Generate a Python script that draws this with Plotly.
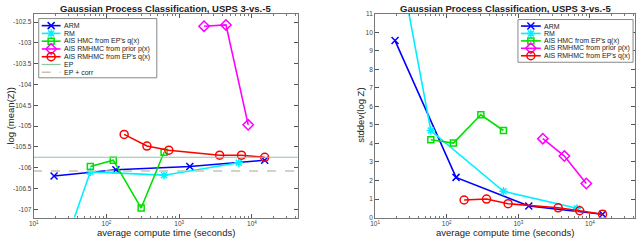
import plotly.graph_objects as go

# ---------------- data ----------------
title_text = "Gaussian Process Classification, USPS 3-vs.-5"
x_label = "average compute time (seconds)"
left_ylabel = "log (mean(Z))"
right_ylabel = "stddev(log Z)"

arm_t = [19, 135, 1400, 15000]
arm_mean = [-106.2, -106.05, -105.97, -105.82]
arm_std = [9.55, 2.17, 0.63, 0.18]

rm_t = [19, 60, 620, 6600]
rm_mean = [-108.6, -106.1, -106.18, -105.88]
rm_std = [15.0, 4.7, 1.42, 0.5]

hmc_t = [60, 124, 300, 620]
hmc_mean = [-105.97, -105.82, -106.97, -105.63]
hmc_std = [4.2, 4.02, 5.55, 4.7]

rmprior_t = [2200, 4400, 8900]
rmprior_mean = [-102.6, -102.57, -104.97]
rmprior_std = [4.26, 3.32, 1.84]

rmep_t = [175, 360, 720, 3600, 7200, 15000]
rmep_mean = [-105.2, -105.48, -105.58, -105.7, -105.7, -105.75]
rmep_std = [0.95, 1.0, 0.75, 0.53, 0.37, 0.18]

ep_value = -105.75
ep_corr_value = -106.08

x_tickvals = [10, 100, 1000, 10000]
x_ticktext = ["10<sup>1</sup>", "10<sup>2</sup>", "10<sup>3</sup>", "10<sup>4</sup>"]
left_yticks = [-107, -106.5, -106, -105.5, -105, -104.5, -104, -103.5, -103, -102.5]
left_yticktext = ["-107", "-106.5", "-106", "-105.5", "-105", "-104.5", "-104", "-103.5", "-103", "-102.5"]
right_yticks = list(range(0, 12))

series = [
    ("ARM", arm_t, arm_mean, arm_std, "#0000ff", "x-thin-open", 7),
    ("RM", rm_t, rm_mean, rm_std, "#00f0ff", "asterisk-open", 7),
    ("AIS HMC from EP's q(x)", hmc_t, hmc_mean, hmc_std, "#00e000", "square-open", 6),
    ("AIS RMHMC from prior p(x)", rmprior_t, rmprior_mean, rmprior_std, "#ff00ff", "diamond-open", 8),
    ("AIS RMHMC from EP's q(x)", rmep_t, rmep_mean, rmep_std, "#ff0000", "circle-open", 8),
]
ep_color = "#88c8a0"
epc_color = "#c8c4b0"

FONT = "Liberation Sans, Arial, sans-serif"
W, H = 640, 241

# axes boxes in pixels (left, right, top, bottom)
LBOX = (29, 295, 10, 220)
RBOX = (373, 635, 10, 220)

def xdom(b):
    return [b[0] / W, b[1] / W]

def ydom(b):
    return [1 - b[3] / H, 1 - b[2] / H]

fig = go.Figure()

for name, t, m, s, col, sym, ms in series:
    fig.add_trace(go.Scatter(
        x=t, y=m, name=name, mode="lines+markers", xaxis="x", yaxis="y",
        line=dict(color=col, width=1.6), showlegend=False,
        marker=dict(symbol=sym, size=ms, color=col, line=dict(color=col, width=1.5))))
fig.add_trace(go.Scatter(
    x=[1, 1e6], y=[ep_value, ep_value], name="EP", mode="lines", showlegend=False,
    xaxis="x", yaxis="y", line=dict(color=ep_color, width=1.2)))
fig.add_trace(go.Scatter(
    x=[1, 1e6], y=[ep_corr_value, ep_corr_value], name="EP + corr", mode="lines", showlegend=False,
    xaxis="x", yaxis="y", line=dict(color=epc_color, width=1.6, dash="dash")))

for name, t, m, s, col, sym, ms in series:
    fig.add_trace(go.Scatter(
        x=t, y=s, name=name, mode="lines+markers", xaxis="x2", yaxis="y2",
        line=dict(color=col, width=1.6), showlegend=False,
        marker=dict(symbol=sym, size=ms, color=col, line=dict(color=col, width=1.5))))

# ---------------- custom compact legends (pixel overlay axis) ----------------
shapes = []
annotations = []

def add_legend(box, entries, key_x0, key_x1, text_x, row_y0, row_h):
    shapes.append(dict(type="rect", xref="x3", yref="y3", x0=box[0], x1=box[1], y0=box[2], y1=box[3],
                       line=dict(color="#888", width=1), fillcolor="white", layer="below"))
    for i, (name, col, sym, ms, dash, lw) in enumerate(entries):
        yy = row_y0 + i * row_h
        fig.add_trace(go.Scatter(
            x=[key_x0, key_x1], y=[yy, yy], mode="lines", xaxis="x3", yaxis="y3",
            line=dict(color=col, width=lw, dash=dash), showlegend=False, hoverinfo="skip",
            cliponaxis=False))
        if sym:
            fig.add_trace(go.Scatter(
                x=[(key_x0 + key_x1) / 2], y=[yy], mode="markers", xaxis="x3", yaxis="y3",
                marker=dict(symbol=sym, size=ms, color=col, line=dict(color=col, width=1.5)),
                showlegend=False, hoverinfo="skip", cliponaxis=False))
        annotations.append(dict(text=name, x=text_x, y=yy, xref="x3", yref="y3",
                                xanchor="left", yanchor="middle", showarrow=False, borderpad=0,
                                font=dict(size=7, color="#222", family=FONT)))

left_entries = [(n, c, s, ms, "solid", 1.6) for n, t, m, sd, c, s, ms in series]
left_entries += [("EP", ep_color, None, 0, "solid", 1.2), ("EP + corr", epc_color, None, 0, "dash", 1.6)]
right_entries = [(n, c, s, ms, "solid", 1.6) for n, t, m, sd, c, s, ms in series]

add_legend((34, 153, 15, 76), left_entries, 37, 56, 58, 22.3, 8.0)
add_legend((517, 633, 16, 60), right_entries, 520, 540, 542, 22.7, 7.65)

# ---------------- axes ----------------
minor_vals = [k * 10 ** e for e in range(1, 5) for k in range(2, 10)]

def xaxis_cfg(box, anchor):
    return dict(
        type="log", domain=xdom(box), anchor=anchor,
        range=[1, 4.63],
        tickvals=x_tickvals, ticktext=x_ticktext,
        ticks="inside", ticklen=4, tickcolor="#555",
        minor=dict(tickvals=minor_vals, ticks="inside", ticklen=2, tickcolor="#777", showgrid=False),
        showline=True, linecolor="#777", linewidth=1, mirror="ticks",
        showgrid=False, zeroline=False,
        tickfont=dict(size=6.5, color="#444", family=FONT),
    )

def yaxis_common():
    return dict(ticks="inside", ticklen=4, tickcolor="#555",
                showline=True, linecolor="#777", linewidth=1, mirror="ticks",
                showgrid=False, zeroline=False,
                tickfont=dict(size=6.5, color="#444", family=FONT))

fig.update_layout(
    width=W, height=H,
    margin=dict(l=0, r=0, t=0, b=0),
    paper_bgcolor="white", plot_bgcolor="rgba(0,0,0,0)",
    font=dict(family=FONT, color="#222"),
    showlegend=False,
    xaxis=xaxis_cfg(LBOX, "y"),
    xaxis2=xaxis_cfg(RBOX, "y2"),
    yaxis=dict(domain=ydom(LBOX), anchor="x", range=[-107.2, -102.3],
               tickvals=left_yticks, ticktext=left_yticktext, **yaxis_common()),
    yaxis2=dict(domain=ydom(RBOX), anchor="x2", range=[0, 11],
                tickvals=right_yticks, **yaxis_common()),
    xaxis3=dict(domain=[0, 1], range=[0, W], visible=False, anchor="y3", fixedrange=True),
    yaxis3=dict(domain=[0, 1], range=[H, 0], visible=False, anchor="x3", fixedrange=True),
    shapes=shapes,
)

for box in (LBOX, RBOX):
    cx = (box[0] + box[1]) / 2
    annotations.append(dict(text="<b>" + title_text + "</b>", x=cx, y=5, xref="x3", yref="y3",
                            xanchor="center", yanchor="middle", showarrow=False, borderpad=0,
                            font=dict(size=9.5, color="#222", family=FONT)))
    annotations.append(dict(text=x_label, x=cx, y=235.5, xref="x3", yref="y3",
                            xanchor="center", yanchor="middle", showarrow=False, borderpad=0,
                            font=dict(size=9.5, color="#222", family=FONT)))
annotations.append(dict(text=left_ylabel, x=6, y=115, xref="x3", yref="y3", textangle=-90,
                        xanchor="center", yanchor="middle", showarrow=False, borderpad=0,
                        font=dict(size=9.5, color="#222", family=FONT)))
annotations.append(dict(text=right_ylabel, x=358, y=115, xref="x3", yref="y3", textangle=-90,
                        xanchor="center", yanchor="middle", showarrow=False, borderpad=0,
                        font=dict(size=9.5, color="#222", family=FONT)))
fig.update_layout(annotations=annotations)

fig.write_html("out.html",
               config={"displayModeBar": False},
               post_script="document.body.style.margin='0';document.body.style.padding='0';")
